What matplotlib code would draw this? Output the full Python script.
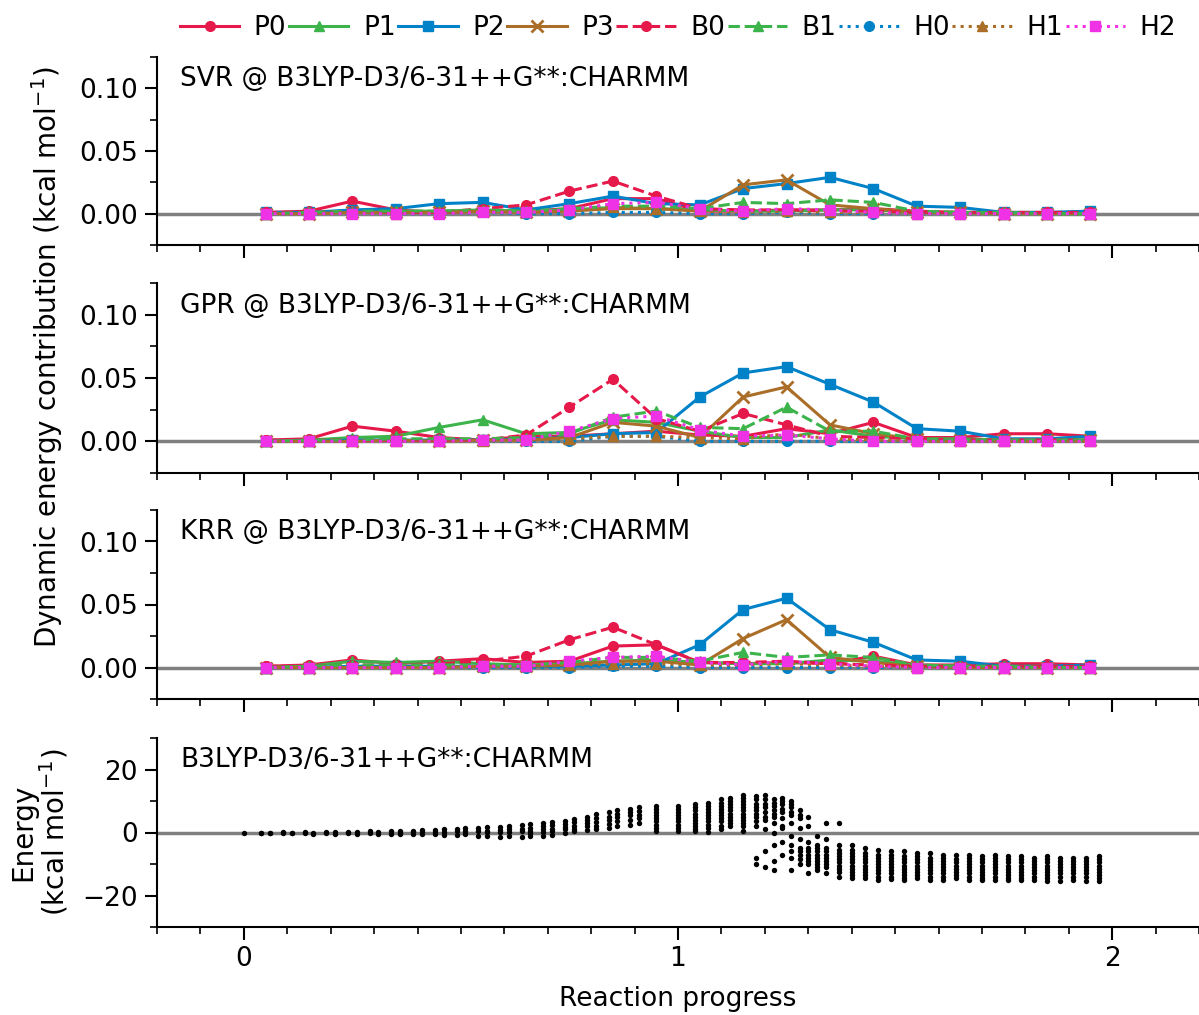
import matplotlib
matplotlib.use("Agg")
import matplotlib.pyplot as plt
from matplotlib.ticker import MultipleLocator

plt.rcParams['font.family'] = ['DejaVu Sans']
plt.rcParams['font.size'] = 19

# ---------------- data ----------------
progress = [0.05, 0.15, 0.25, 0.35, 0.45, 0.55, 0.65, 0.75, 0.85, 0.95,
            1.05, 1.15, 1.25, 1.35, 1.45, 1.55, 1.65, 1.75, 1.85, 1.95]
series_names = ["P0", "P1", "P2", "P3", "B0", "B1", "H0", "H1", "H2"]

svr_P0 = [0.001,0.002,0.010,0.003,0.001,0.002,0.002,0.004,0.012,0.012,0.002,0.002,0.003,0.003,0.004,0.002,0.001,0.001,0.001,0.001]
svr_P1 = [0.000,0.001,0.002,0.002,0.002,0.003,0.002,0.003,0.005,0.004,0.003,0.002,0.002,0.003,0.003,0.001,0.001,0.000,0.000,0.000]
svr_P2 = [0.001,0.001,0.003,0.004,0.008,0.009,0.003,0.008,0.014,0.008,0.007,0.020,0.024,0.029,0.020,0.006,0.005,0.001,0.001,0.002]
svr_P3 = [0.000,0.000,0.001,0.001,0.001,0.002,0.001,0.002,0.004,0.004,0.002,0.023,0.027,0.007,0.004,0.001,0.001,0.000,0.000,0.000]
svr_B0 = [0.001,0.001,0.002,0.001,0.001,0.004,0.007,0.018,0.026,0.014,0.004,0.003,0.003,0.002,0.002,0.001,0.001,0.001,0.001,0.001]
svr_B1 = [0.000,0.001,0.002,0.002,0.002,0.003,0.002,0.004,0.006,0.006,0.004,0.009,0.008,0.011,0.009,0.002,0.001,0.001,0.000,0.000]
svr_H0 = [0.000,0.000,0.001,0.000,0.000,0.001,0.000,0.000,0.001,0.001,0.000,0.000,0.001,0.000,0.000,0.000,0.000,0.000,0.000,0.000]
svr_H1 = [0.000,0.000,0.001,0.000,0.001,0.002,0.001,0.003,0.005,0.004,0.002,0.001,0.002,0.001,0.001,0.000,0.000,0.000,0.000,0.000]
svr_H2 = [0.000,0.000,0.000,0.000,0.000,0.001,0.001,0.003,0.008,0.009,0.004,0.002,0.004,0.003,0.001,0.000,0.000,0.000,0.000,0.000]

gpr_P0 = [0.001,0.002,0.012,0.008,0.003,0.001,0.004,0.004,0.006,0.008,0.005,0.004,0.010,0.006,0.015,0.003,0.003,0.006,0.006,0.004]
gpr_P1 = [0.000,0.001,0.003,0.004,0.011,0.017,0.006,0.007,0.017,0.015,0.008,0.003,0.003,0.009,0.004,0.002,0.002,0.001,0.001,0.001]
gpr_P2 = [0.000,0.000,0.001,0.001,0.001,0.001,0.002,0.003,0.006,0.007,0.035,0.054,0.059,0.045,0.031,0.010,0.008,0.002,0.002,0.004]
gpr_P3 = [0.000,0.000,0.000,0.001,0.000,0.001,0.001,0.003,0.015,0.012,0.003,0.035,0.043,0.013,0.006,0.002,0.001,0.001,0.001,0.001]
gpr_B0 = [0.001,0.001,0.001,0.001,0.001,0.001,0.005,0.027,0.049,0.018,0.008,0.022,0.013,0.004,0.003,0.002,0.001,0.001,0.001,0.001]
gpr_B1 = [0.000,0.001,0.001,0.002,0.002,0.002,0.003,0.006,0.019,0.024,0.011,0.010,0.027,0.008,0.008,0.002,0.001,0.001,0.001,0.001]
gpr_H0 = [0.000,0.000,0.000,0.000,0.000,0.000,0.000,0.000,0.004,0.004,0.000,0.000,0.000,0.000,0.000,0.000,0.000,0.000,0.000,0.000]
gpr_H1 = [0.000,0.000,0.000,0.000,0.000,0.000,0.001,0.002,0.004,0.004,0.003,0.002,0.006,0.002,0.001,0.000,0.000,0.000,0.000,0.000]
gpr_H2 = [0.000,0.000,0.000,0.000,0.000,0.001,0.001,0.008,0.018,0.020,0.009,0.004,0.005,0.002,0.000,0.000,0.000,0.000,0.000,0.000]

krr_P0 = [0.001,0.002,0.006,0.003,0.005,0.007,0.004,0.005,0.017,0.018,0.004,0.003,0.004,0.003,0.009,0.002,0.002,0.003,0.003,0.002]
krr_P1 = [0.000,0.001,0.005,0.004,0.005,0.003,0.002,0.003,0.005,0.006,0.004,0.003,0.003,0.006,0.005,0.002,0.001,0.001,0.001,0.001]
krr_P2 = [0.000,0.000,0.001,0.001,0.001,0.001,0.001,0.001,0.002,0.003,0.018,0.046,0.055,0.030,0.020,0.006,0.005,0.001,0.001,0.002]
krr_P3 = [0.000,0.000,0.000,0.000,0.000,0.001,0.001,0.002,0.005,0.005,0.002,0.023,0.038,0.008,0.004,0.001,0.000,0.000,0.000,0.000]
krr_B0 = [0.001,0.001,0.002,0.002,0.003,0.005,0.009,0.022,0.032,0.018,0.004,0.004,0.005,0.003,0.002,0.001,0.001,0.001,0.001,0.001]
krr_B1 = [0.000,0.001,0.002,0.002,0.002,0.002,0.002,0.004,0.008,0.008,0.005,0.012,0.008,0.010,0.008,0.002,0.001,0.001,0.000,0.000]
krr_H0 = [0.000,0.000,0.000,0.000,0.000,0.000,0.000,0.000,0.001,0.001,0.000,0.000,0.000,0.000,0.000,0.000,0.000,0.000,0.000,0.000]
krr_H1 = [0.000,0.000,0.000,0.000,0.000,0.001,0.001,0.002,0.003,0.003,0.002,0.002,0.003,0.002,0.001,0.000,0.000,0.000,0.000,0.000]
krr_H2 = [0.000,0.000,0.000,0.000,0.000,0.001,0.001,0.005,0.008,0.009,0.004,0.002,0.005,0.003,0.001,0.000,0.000,0.000,0.000,0.000]

panel_titles = ["SVR @ B3LYP-D3/6-31++G**:CHARMM",
                "GPR @ B3LYP-D3/6-31++G**:CHARMM",
                "KRR @ B3LYP-D3/6-31++G**:CHARMM"]
energy_title = "B3LYP-D3/6-31++G**:CHARMM"

# energy scan: column positions and energies read per column
scan_x = [0.00, 0.04, 0.06, 0.09, 0.11, 0.14, 0.16, 0.19, 0.21, 0.24,
          0.26, 0.29, 0.31, 0.34, 0.36, 0.39, 0.41, 0.44, 0.46, 0.49,
          0.51, 0.54, 0.56, 0.59, 0.61, 0.64, 0.66, 0.69, 0.71, 0.74,
          0.76, 0.79, 0.81, 0.84, 0.86, 0.89, 0.91, 0.95, 1.00, 1.04,
          1.07, 1.10, 1.12, 1.15, 1.18, 1.20, 1.22, 1.24, 1.26, 1.28,
          1.30, 1.32, 1.34, 1.37, 1.40, 1.43, 1.46, 1.49, 1.52, 1.55,
          1.58, 1.61, 1.64, 1.67, 1.70, 1.73, 1.76, 1.79, 1.82, 1.85,
          1.88, 1.91, 1.94, 1.97, 2.00]
scan_e = [
    [0.0], [0.0, -0.2], [0.0, -0.3], [0.1, -0.2], [0.0, -0.3], [0.1, -0.3],
    [0.0, -0.4], [0.2, -0.3], [0.1, -0.4], [0.3, -0.3], [0.2, -0.4], [0.4, -0.3],
    [0.3, -0.5], [0.5, -0.4], [0.4, -0.5, 0.0], [0.6, -0.4, 0.1], [0.7, -0.6, 0.2],
    [0.8, -0.5, 0.3], [1.0, -0.7, 0.2], [1.1, -0.8, 0.4], [1.3, -0.6, 0.5],
    [1.4, -1.0, 0.5], [1.6, -1.2, 0.6, 0.1], [1.8, -1.3, 0.8, 0.2],
    [2.0, -1.0, 1.0, 0.3], [2.3, -1.5, 1.2, 0.4], [2.6, -1.2, 1.5, 0.6, 0.0],
    [3.0, -1.0, 2.0, 1.0, 0.2], [3.4, -0.8, 2.4, 1.2, 0.5], [3.8, 0.0, 2.8, 1.8, 1.0],
    [4.2, 0.5, 3.2, 2.0, 1.2], [5.0, 0.8, 4.0, 3.0, 2.0], [5.8, 1.0, 4.5, 3.2, 2.2],
    [6.5, 1.5, 5.0, 4.0, 2.8], [7.0, 2.0, 6.0, 5.0, 3.5], [7.5, 2.5, 6.5, 5.5, 4.0],
    [8.0, 3.0, 6.8, 5.5, 4.5],
    [8.5, 0.5, 7.5, 6.5, 5.5, 4.5, 3.5, 2.5, 1.5],
    [8.5, 0.5, 7.5, 6.5, 5.5, 4.5, 3.5, 2.5, 1.5],
    [9.0, 0.5, 8.0, 7.0, 6.0, 5.0, 4.0, 3.0, 2.0, 1.2],
    [9.5, 0.3, 8.5, 7.5, 6.5, 5.5, 4.5, 3.5, 2.5, 1.5],
    [10.5, 1.0, 9.5, 8.5, 7.5, 6.5, 5.5, 4.5, 3.5, 2.2],
    [11.0, 2.0, 10.0, 9.0, 8.0, 7.0, 6.0, 5.0, 4.0, 3.0],
    [12.0, 0.5, 11.0, 10.0, 9.0, 8.0, 7.0, 6.0, 5.0, 4.0, 3.0, 2.0],
    [11.5, 2.0, 10.5, 9.0, 8.0, 7.0, 6.0, 5.0, 3.5, -8.0, -10.0],
    [12.0, 1.0, 10.5, 9.0, 8.0, 6.5, 5.0, 4.0, -6.0, -11.0],
    [10.5, 0.0, 9.5, 8.5, 7.0, 6.0, 5.0, 3.0, -4.0, -9.0, -12.0],
    [11.0, 1.5, 10.0, 9.0, 7.5, 6.5, 4.5, 2.0, -3.0, -7.0],
    [10.0, -1.0, 9.0, 8.0, 6.5, 5.5, 3.0, -4.0, -6.0, -8.0, -12.0],
    [7.0, -2.0, 5.5, 4.5, 1.5, -5.0, -6.0, -7.0, -8.5, -10.0],
    [5.0, -3.0, 2.0, -5.0, -6.0, -7.0, -8.0, -9.0, -10.0, -13.0],
    [-1.0, -4.0, -5.0, -6.0, -7.0, -8.0, -9.0, -10.0, -11.0, -12.0],
    [3.0, -2.0, -5.0, -6.0, -7.0, -8.0, -9.0, -10.0, -11.0, -13.0],
    [3.0, -4.0, -5.5, -6.5, -7.5, -8.5, -9.5, -10.5, -11.5, -12.5, -14.0],
    [-4.0, -5.5, -6.5, -7.5, -8.5, -9.5, -10.5, -11.5, -12.5, -13.5, -14.5],
    [-5.0, -6.5, -7.5, -8.5, -9.5, -10.5, -11.5, -12.5, -13.5, -14.5],
    [-5.5, -7.0, -8.0, -9.0, -10.0, -11.0, -12.0, -13.0, -14.0, -15.0],
    [-6.0, -7.0, -8.0, -9.0, -10.0, -11.0, -12.0, -13.0, -14.0, -14.8],
    [-6.0, -7.5, -8.5, -9.5, -10.5, -11.5, -12.5, -13.5, -14.5, -15.0],
    [-6.5, -7.5, -8.5, -9.5, -10.5, -11.5, -12.5, -13.5, -14.5],
    [-6.5, -8.0, -9.0, -10.0, -11.0, -12.0, -13.0, -14.0, -15.0],
    [-7.0, -8.0, -9.0, -10.0, -11.0, -12.0, -13.0, -14.0, -15.0],
    [-7.0, -8.5, -9.5, -10.5, -11.5, -12.5, -13.5, -14.5],
    [-7.0, -8.0, -9.0, -10.0, -11.0, -12.0, -13.0, -14.0, -15.0],
    [-7.5, -8.5, -9.5, -10.5, -11.5, -12.5, -13.5, -14.5, -15.0],
    [-7.0, -8.0, -9.0, -10.0, -11.0, -12.0, -13.0, -14.0, -15.0],
    [-7.5, -8.5, -9.5, -10.5, -11.5, -12.5, -13.5, -14.5, -15.0],
    [-7.5, -8.5, -9.5, -10.5, -11.5, -12.5, -13.5, -14.5, -15.2],
    [-8.0, -9.0, -10.0, -11.0, -12.0, -13.0, -14.0, -15.0],
    [-7.5, -8.5, -9.5, -10.5, -11.5, -12.5, -13.5, -14.5, -15.5],
    [-8.0, -9.0, -10.0, -11.0, -12.0, -13.0, -14.0, -15.5],
    [-8.0, -9.0, -10.0, -11.0, -12.0, -13.0, -14.0, -15.0],
    [-8.0, -9.0, -10.0, -11.0, -12.0, -13.0, -14.0, -15.5],
    [-7.5, -8.5, -9.5, -10.5, -11.5, -12.5, -13.5, -14.5, -15.5],
]

# ---------------- styles ----------------
red, green, blue, brown, magenta = "#e6194b", "#3cb44b", "#0082c8", "#aa6e28", "#f032e6"
styles = {
    "P0": dict(color=red, ls="-", marker="o"),
    "P1": dict(color=green, ls="-", marker="^"),
    "P2": dict(color=blue, ls="-", marker="s"),
    "P3": dict(color=brown, ls="-", marker="x"),
    "B0": dict(color=red, ls="--", marker="o"),
    "B1": dict(color=green, ls="--", marker="^"),
    "H0": dict(color=blue, ls=":", marker="o"),
    "H1": dict(color=brown, ls=":", marker="^"),
    "H2": dict(color=magenta, ls=":", marker="s"),
}

panels = [
    [svr_P0, svr_P1, svr_P2, svr_P3, svr_B0, svr_B1, svr_H0, svr_H1, svr_H2],
    [gpr_P0, gpr_P1, gpr_P2, gpr_P3, gpr_B0, gpr_B1, gpr_H0, gpr_H1, gpr_H2],
    [krr_P0, krr_P1, krr_P2, krr_P3, krr_B0, krr_B1, krr_H0, krr_H1, krr_H2],
]

W, H = 1199, 1015
fig = plt.figure(figsize=(W / 100, H / 100), dpi=100)

left = 157 / W
width = 1 - left
boxes = [(57, 245), (283, 473), (510, 699), (738, 927)]
axes = []
for (top, bot) in boxes:
    ax = fig.add_axes([left, 1 - bot / H, width, (bot - top) / H])
    axes.append(ax)


def style_axis(ax):
    for s in ("top", "right"):
        ax.spines[s].set_visible(False)
    for s in ("left", "bottom"):
        ax.spines[s].set_linewidth(1.5)
    ax.set_xlim(-0.2, 2.2)
    ax.xaxis.set_major_locator(MultipleLocator(1))
    ax.xaxis.set_minor_locator(MultipleLocator(0.1))
    ax.tick_params(which="major", direction="out", length=9, width=1.5, labelsize=19, pad=5)
    ax.tick_params(which="minor", direction="out", length=5, width=1.2)
    ax.axhline(0, color="#808080", lw=2.5, zorder=1)


handles = []
for i, ax in enumerate(axes[:3]):
    style_axis(ax)
    for name, vals in zip(series_names, panels[i]):
        st = styles[name]
        h, = ax.plot(progress, vals, color=st["color"], ls=st["ls"], marker=st["marker"],
                     lw=2.2, ms=7 if st["marker"] != "x" else 9, mew=2 if st["marker"] == "x" else 1,
                     label=name, zorder=3)
        if i == 0:
            handles.append(h)
    ax.set_ylim(-0.025, 0.125)
    ax.yaxis.set_major_locator(MultipleLocator(0.05))
    ax.yaxis.set_minor_locator(MultipleLocator(0.025))
    ax.yaxis.set_major_formatter(plt.FormatStrFormatter("%.2f"))
    ax.tick_params(axis="x", labelbottom=False)
    ax.text(0.022, 0.95, panel_titles[i], transform=ax.transAxes, ha="left", va="top", fontsize=19)

ax4 = axes[3]
style_axis(ax4)
sx, sy = [], []
for x, es in zip(scan_x, scan_e):
    for e in es:
        sx.append(x)
        sy.append(e)
ax4.scatter(sx, sy, s=15, color="black", zorder=3, linewidths=0)
ax4.set_ylim(-30, 30)
ax4.yaxis.set_major_locator(MultipleLocator(20))
ax4.yaxis.set_minor_locator(MultipleLocator(10))
ax4.text(0.022, 0.95, energy_title, transform=ax4.transAxes, ha="left", va="top", fontsize=19)
ax4.set_xlabel("Reaction progress", fontsize=19, labelpad=10)

fig.text(47 / W, 1 - 357 / H, "Dynamic energy contribution (kcal mol$^{-1}$)",
         rotation=90, ha="center", va="center", fontsize=20)
fig.text(40 / W, 1 - 832 / H, "Energy\n(kcal mol$^{-1}$)", rotation=90,
         ha="center", va="center", fontsize=20, multialignment="center", linespacing=1.0)

fig.legend(handles=handles, labels=series_names, loc="center", ncol=9,
           bbox_to_anchor=(678 / W, 1 - 28 / H), frameon=False, fontsize=19,
           handlelength=2.25, handletextpad=0.55, columnspacing=0.1)

fig.savefig("out.png", dpi=100)
